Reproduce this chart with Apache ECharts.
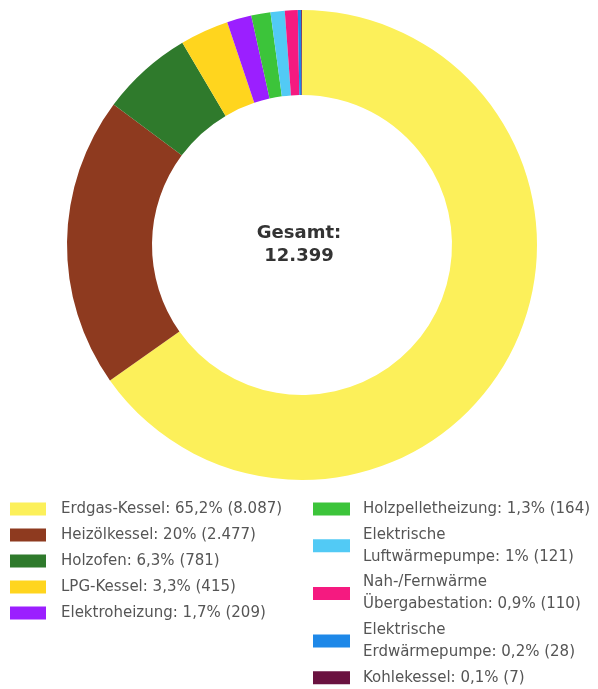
<!DOCTYPE html>
<html><head><meta charset="utf-8">
<script src="https://cdn.jsdelivr.net/npm/echarts@6/dist/echarts.min.js"></script>
<style>html,body{margin:0;padding:0;background:#fff}#c{width:598px;height:689px}</style>
</head><body><div id="c"></div>
<script>
const categories = ['Erdgas-Kessel','Heizölkessel','Holzofen','LPG-Kessel','Elektroheizung','Holzpelletheizung','Elektrische Luftwärmepumpe','Nah-/Fernwärme Übergabestation','Elektrische Erdwärmepumpe','Kohlekessel'];
const values = [8087,2477,781,415,209,164,121,110,28,7];
const colors = ['#FCF05A','#8E3A1F','#2F7A2C','#FFD51E','#9B1FFF','#3CC43A','#52CAF5','#F51A80','#1E88E8','#6A1240'];
const total = values.reduce((a,b)=>a+b,0);
const fmtNum = n => String(n).replace(/\B(?=(\d{3})+(?!\d))/g,'.');
const fmtPct = v => { let p = Math.round(v/total*1000)/10; return String(p).replace('.',','); };
const labelOf = name => { const i = categories.indexOf(name); return name.replace(' ', '\n') + ': ' + fmtPct(values[i]) + '% (' + fmtNum(values[i]) + ')'; };
const FONT = 'DejaVu Sans';
const chart = echarts.init(document.getElementById('c'));
const leftNames = categories.slice(0,5), rightNames = categories.slice(5);
chart.setOption({
  animation:false,
  color: colors,
  title:{text:'Gesamt:\n' + fmtNum(total), left:'center', top:222, padding:0,
    textStyle:{fontFamily:FONT, fontSize:18, fontWeight:600, color:'#333', lineHeight:23}},
  legend:[
    {data:leftNames, orient:'vertical', left:10, top:498, height:190, padding:0, itemWidth:36, itemHeight:13, itemGap:4,
     icon:'rect', formatter:labelOf,
     textStyle:{fontFamily:FONT, fontSize:15, color:'#555', lineHeight:22, padding:[0,0,0,10]}},
    {data:rightNames, orient:'vertical', left:313, top:498, height:191, padding:0, itemWidth:37, itemHeight:13, itemGap:3.7,
     icon:'rect', formatter:labelOf,
     textStyle:{fontFamily:FONT, fontSize:15, color:'#555', lineHeight:22, padding:[0,0,0,8]}}
  ],
  series:[{type:'pie', radius:[150,235], center:[302,245], startAngle:90, clockwise:true,
    label:{show:false}, labelLine:{show:false}, itemStyle:{borderWidth:0},
    data: categories.map((n,i)=>({name:n, value:values[i]}))}]
});
</script></body></html>
